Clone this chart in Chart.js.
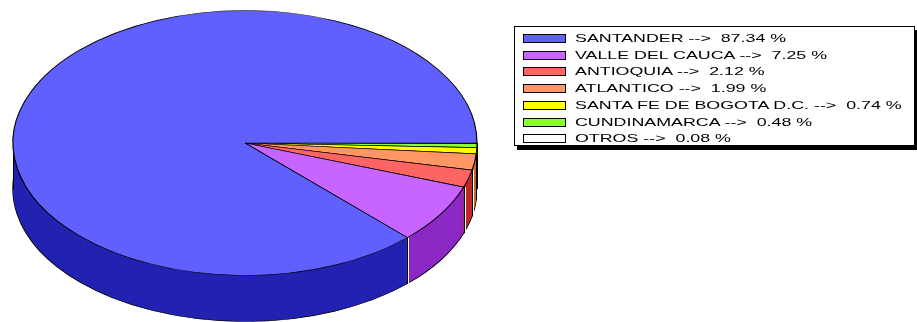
<!DOCTYPE html>
<html>
<head>
<meta charset="utf-8">
<script src="https://cdn.jsdelivr.net/npm/chart.js@4/dist/chart.umd.min.js"></script>
<style>
  html, body { margin: 0; padding: 0; background: #fff; }
  #wrap { position: relative; width: 917px; height: 322px; overflow: hidden; }
  #grafico { position: absolute; left: 0; top: 0; }
  #leyenda {
    position: absolute; left: 514px; top: 26px; width: 399px; height: 118px;
    border: 1px solid #000; background: #fff; box-shadow: 3px 4px 0 #000;
  }
  .fila { position: absolute; left: 0; height: 16px; width: 100%; }
  .caja { position: absolute; left: 8px; top: 4px; width: 41px; height: 7px; border: 1px solid #000; }
  .txt {
    position: absolute; left: 60px; top: 0; white-space: pre;
    font-family: "Liberation Sans", Arial, sans-serif; font-size: 11px; line-height: 16px;
    color: #000; transform: scaleX(1.62); transform-origin: 0 50%;
  }
</style>
</head>
<body>
<div id="wrap">
  <canvas id="grafico" width="917" height="322"></canvas>
  <div id="leyenda"></div>
</div>
<script>
// Datos del gráfico (orden de la leyenda)
const departamentos = ['SANTANDER', 'VALLE DEL CAUCA', 'ANTIOQUIA', 'ATLANTICO', 'SANTA FE DE BOGOTA D.C.', 'CUNDINAMARCA', 'OTROS'];
const porcentajes = [87.34, 7.25, 2.12, 1.99, 0.74, 0.48, 0.08];
const coloresArriba = ['#6060FF', '#C864FF', '#FF6464', '#FF9664', '#FFFF00', '#8CFF32', '#FFFFFF'];
const coloresLado = ['#2323B2', '#8C28C4', '#BE2828', '#C86432', '#C8C800', '#5AB41E', '#C8C8C8'];

// Geometría de la torta 3D (en pantalla)
const CX = 245, CY = 143, RX = 232, RY = 132.5, PROF = 46;

// Leyenda
const leyenda = document.getElementById('leyenda');
departamentos.forEach((d, i) => {
    const fila = document.createElement('div');
    fila.className = 'fila';
    fila.style.top = (3 + i * 16.7) + 'px';
    fila.innerHTML = '<div class="caja" style="background:' + coloresArriba[i] + '"></div>' +
        '<div class="txt">' + d + ' -->  ' + porcentajes[i].toFixed(2) + ' %</div>';
    leyenda.appendChild(fila);
});

// El gráfico va en sentido antihorario desde las 3, así que se invierte el orden
const etiquetasInv = departamentos.slice().reverse();
const valoresInv = porcentajes.slice().reverse();
const arribaInv = coloresArriba.slice().reverse();
const ladoInv = coloresLado.slice().reverse();

const torta3d = {
    id: 'torta3d',
    beforeDatasetsDraw(chart) {
        const ctx = chart.ctx;
        const dpr = chart.currentDevicePixelRatio || 1;
        const arcs = chart.getDatasetMeta(0).data;
        const a0 = arcs[0];
        const sx = RX / a0.outerRadius, sy = RY / a0.outerRadius;
        const poner = (dy) => ctx.setTransform(dpr * sx, 0, 0, dpr * sy, dpr * (CX - sx * a0.x), dpr * (CY + dy - sy * a0.y));

        ctx.save();
        // Lado del cilindro
        for (let dy = PROF; dy >= 1; dy--) {
            poner(dy);
            arcs.forEach((arc, i) => {
                const o = arc.options;
                arc.options = Object.assign({}, o, {
                    backgroundColor: ladoInv[i],
                    borderWidth: dy === PROF ? o.borderWidth : 0
                });
                arc.draw(ctx);
                arc.options = o;
            });
        }
        // Bordes verticales del lado
        ctx.setTransform(dpr, 0, 0, dpr, 0, 0);
        const angulos = [0, Math.PI];
        arcs.forEach(arc => angulos.push(arc.endAngle));
        angulos.forEach(a => {
            const s = Math.sin(a), c = Math.cos(a);
            if (s < -1e-6) return;
            const x = Math.round(CX + RX * c) + 0.5;
            const y = CY + RY * s;
            ctx.strokeStyle = '#000';
            ctx.lineWidth = 1;
            ctx.beginPath();
            ctx.moveTo(x, y);
            ctx.lineTo(x, y + PROF);
            ctx.stroke();
            if (Math.abs(s) > 0.05) {
                ctx.strokeStyle = '#fff';
                ctx.beginPath();
                ctx.moveTo(x + 1, y);
                ctx.lineTo(x + 1, y + PROF);
                ctx.stroke();
            }
        });
        // Tapa superior: la dibuja Chart.js con esta transformación
        poner(0);
    },
    afterDatasetsDraw(chart) {
        chart.ctx.restore();
    }
};

new Chart(document.getElementById('grafico'), {
    type: 'pie',
    data: {
        labels: etiquetasInv,
        datasets: [{
            data: valoresInv,
            backgroundColor: arribaInv,
            borderColor: '#000',
            borderWidth: 0.8,
            clip: false
        }]
    },
    options: {
        responsive: false,
        animation: false,
        events: [],
        rotation: 90,
        layout: { padding: 0 },
        plugins: {
            legend: { display: false },
            tooltip: { enabled: false }
        }
    },
    plugins: [torta3d]
});
</script>
</body>
</html>
